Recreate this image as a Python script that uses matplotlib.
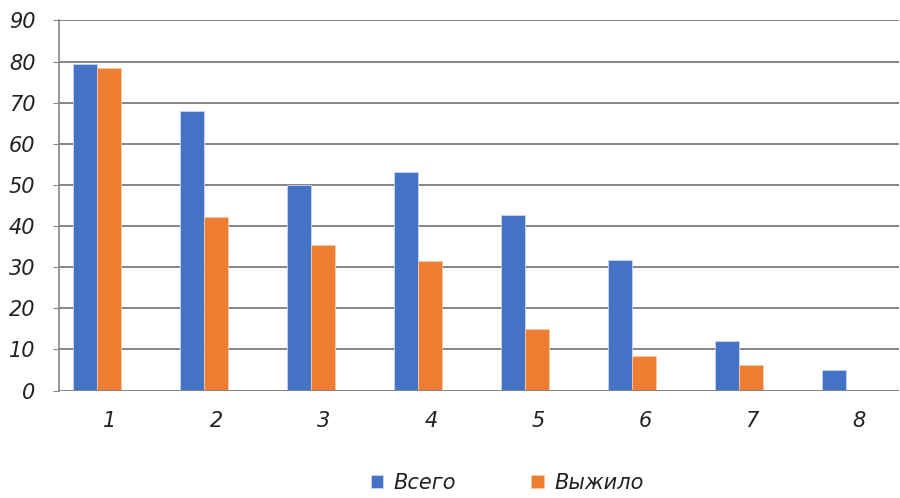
import matplotlib
matplotlib.use('Agg')
import matplotlib.pyplot as plt
import matplotlib.transforms as mtransforms
import numpy as np

categories = ['1', '2', '3', '4', '5', '6', '7', '8']
total = [79.4, 68.0, 50.0, 53.2, 42.7, 31.8, 12.1, 5.1]
survived = [78.4, 42.2, 35.3, 31.5, 14.9, 8.4, 6.1, 0.0]
yticks = [0, 10, 20, 30, 40, 50, 60, 70, 80, 90]

blue = '#4472C4'
orange = '#ED7D31'
grid_col = '#858585'
text_col = '#222222'

plt.rcParams['font.family'] = ['DejaVu Sans']

fig = plt.figure(figsize=(9, 4.98), dpi=100)
ax = fig.add_axes([59/900, 107.5/498, 840/900, 370/498])

x = np.arange(len(categories))
w = 0.224
ax.bar(x - w/2, total, w, color=blue, edgecolor='#c9d6ee', linewidth=0.6, label='Всего', zorder=3)
ax.bar(x + w/2, survived, w, color=orange, edgecolor='#f7c9a8', linewidth=0.6, label='Выжило', zorder=3)

ax.set_xlim(-0.355, 7.495)
ax.set_ylim(0, 90)
ax.set_yticks(yticks)
ax.set_xticks(x)
ax.set_xticklabels(categories)

ax.yaxis.grid(True, color=grid_col, linewidth=1.4, zorder=0)
for s in ['top', 'right', 'bottom']:
    ax.spines[s].set_visible(False)
ax.spines['left'].set_color(grid_col)
ax.spines['left'].set_linewidth(1.2)
ax.axhline(0, color=grid_col, linewidth=1.4, zorder=4)

ax.tick_params(axis='y', length=4, color=grid_col, pad=13, labelsize=15, labelcolor=text_col)
ax.tick_params(axis='x', length=0, pad=15, labelsize=15, labelcolor=text_col)
for lab in ax.get_yticklabels() + ax.get_xticklabels():
    lab.set_fontstyle('italic')

# shift the category labels a little to the right, as in the original
offset = mtransforms.ScaledTranslation(13/100, 0, fig.dpi_scale_trans)
for lab in ax.get_xticklabels():
    lab.set_transform(lab.get_transform() + offset)

leg = fig.legend(loc='lower center', bbox_to_anchor=(507/900, -0.028), ncol=2,
                 frameon=False, handlelength=0.6, handleheight=0.6,
                 handletextpad=0.5, columnspacing=3.6,
                 prop={'size': 15, 'style': 'italic'})
for t in leg.get_texts():
    t.set_color(text_col)

fig.savefig('out.png', dpi=100)
